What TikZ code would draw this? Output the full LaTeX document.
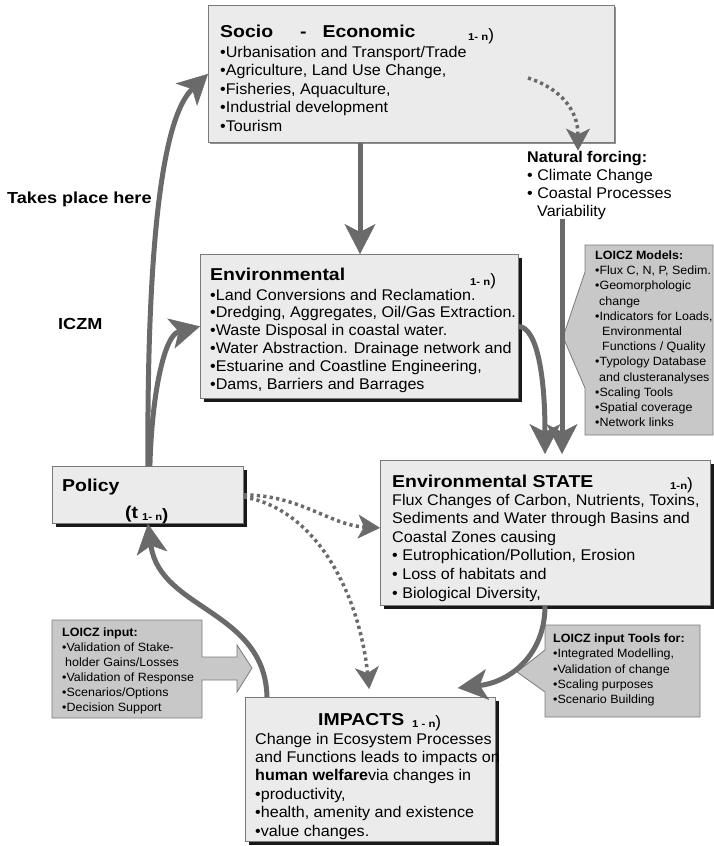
\documentclass[tikz,border=0pt]{standalone}
\usepackage{fontspec}
\setmainfont{Liberation Sans}[FakeStretch=1.04]
\newfontfamily\headfont{Liberation Sans}[FakeStretch=1.13]
\usetikzlibrary{arrows.meta,shadows,calc}
\definecolor{boxfill}{HTML}{EBEBEB}
\definecolor{loiczfill}{HTML}{C8C8C8}
\definecolor{linegray}{HTML}{6A6A6A}
\definecolor{framegray}{HTML}{7A7A7A}
% index range written after a box title, e.g. "1- n)"
\newcommand\subrange[1]{{\headfont\bfseries\fontsize{10}{12}\selectfont #1}{\fontsize{16.5}{16}\selectfont)}}

\begin{document}
\begin{tikzpicture}[x=1pt,y=-1pt,
  box/.style={draw=framegray, line width=0.8pt, fill=boxfill, inner sep=0pt, anchor=north west},
  darkshadow/.style={drop shadow={shadow xshift=3.5pt, shadow yshift=-3.5pt, fill=black, opacity=0.9}},
  lightshadow/.style={drop shadow={shadow xshift=2pt, shadow yshift=-2pt, fill=black!55, opacity=0.8}},
  loicz/.style={draw=framegray, line width=0.8pt, fill=loiczfill, line join=miter},
  body/.style={anchor=base west, inner sep=0pt, font=\fontsize{15.5}{18}\selectfont},
  bodybold/.style={body, font=\fontsize{15.5}{18}\selectfont\bfseries},
  small/.style={anchor=base west, inner sep=0pt, font=\fontsize{12}{14}\selectfont},
  smallhead/.style={small, font=\fontsize{12}{14}\selectfont\bfseries},
  head/.style={anchor=base west, inner sep=0pt, font=\headfont\fontsize{17.2}{20}\selectfont\bfseries},
  sidelabel/.style={anchor=base west, inner sep=0pt, font=\headfont\fontsize{16}{18}\selectfont\bfseries},
  sub/.style={anchor=base west, inner sep=0pt},
  thickarrow/.style={draw=linegray, line width=5pt,
    -{Stealth[length=30pt, width=31pt, inset=8pt, line width=0.5pt]}},
  dotarrow/.style={draw=linegray, line width=3.5pt, dash pattern=on 3.2pt off 3.3pt,
    -{Stealth[length=22pt, width=24pt, inset=6pt, line width=0.5pt]}}
]
\fill[white] (0,0) rectangle (714,846);
\useasboundingbox (0,0) rectangle (714,846);

% ---------- boxes ----------
\node[box, lightshadow, minimum width=406pt, minimum height=137pt] (socio) at (208,5) {};
\node[box, darkshadow, minimum width=318pt, minimum height=144pt] (env) at (200,254) {};
\node[box, darkshadow, minimum width=330pt, minimum height=145pt] (state) at (380,460) {};
\node[box, darkshadow, minimum width=191pt, minimum height=57pt] (policy) at (52,466) {};
\node[box, darkshadow, minimum width=250pt, minimum height=144pt] (impacts) at (245,697) {};

% LOICZ call-outs
\draw[loicz] (585,245) -- (713,245) -- (713,435) -- (585,435) -- (585,388)
  -- (563,337) -- (585,272) -- cycle;
\draw[loicz] (545,625) -- (700,625) -- (700,717) -- (545,717) -- (545,692)
  -- (517,672) -- (545,650) -- cycle;
\draw[loicz] (52,620) -- (202,620) -- (202,657) -- (237,657) -- (237,645)
  -- (252,668) -- (237,692) -- (237,680) -- (202,680) -- (202,718) -- (52,718) -- cycle;

% ---------- Socio-Economic ----------
\node[head] (socioT) at (220,37) {Socio\hspace{27pt}-\hspace{16pt}Economic};
\node[sub] (socioR) at (468,40) {\subrange{1- n}};
\node[body] (socio1) at (220,57) {•Urbanisation and Transport/Trade};
\node[body] (socio2) at (220,75.5) {•Agriculture, Land Use Change,};
\node[body] (socio3) at (220,94) {•Fisheries, Aquaculture,};
\node[body] (socio4) at (220,112.5) {•Industrial development};
\node[body] (socio5) at (220,131) {•Tourism};

% ---------- Natural forcing ----------
\node[bodybold] (nfT) at (527,162) {Natural forcing:};
\node[body] (nf1) at (527,180) {• Climate Change};
\node[body] (nf2) at (527,198) {• Coastal Processes};
\node[body] (nf3) at (537,216) {Variability};

% ---------- Environmental ----------
\node[head] (envT) at (210,280) {Environmental};
\node[sub] (envR) at (470,285) {\subrange{1- n}};
\node[body] (env1) at (210,300) {•Land Conversions and Reclamation.};
\node[body] (env2) at (210,317.8) {•Dredging, Aggregates, Oil/Gas Extraction.};
\node[body] (env3) at (210,335.6) {•Waste Disposal in coastal water.};
\node[body] (env4) at (210,353.4) {•Water Abstraction. Drainage network and};
\node[body] (env5) at (210,371.2) {•Estuarine and Coastline Engineering,};
\node[body] (env6) at (210,389) {•Dams, Barriers and Barrages};

% ---------- Environmental STATE ----------
\node[head] (stateT) at (392,487) {Environmental STATE};
\node[sub] (stateR) at (670,489) {\subrange{1-n}};
\node[body] (state1) at (392,505) {Flux Changes of Carbon, Nutrients, Toxins,};
\node[body] (state2) at (392,523.6) {Sediments and Water through Basins and};
\node[body] (state3) at (392,542.2) {Coastal Zones causing};
\node[body] (state4) at (392,560.8) {• Eutrophication/Pollution, Erosion};
\node[body] (state5) at (392,579.4) {• Loss of habitats and};
\node[body] (state6) at (392,598) {• Biological Diversity,};

% ---------- Policy ----------
\node[head] (policyT) at (62,491) {Policy};
\node[head] (policyR) at (125,518) {(t\hspace{4pt}\raisebox{-2pt}{\subrange{1- n}}};

% ---------- IMPACTS ----------
\node[head] (impT) at (318,725) {IMPACTS};
\node[sub] (impR) at (412,727) {\subrange{1 - n}};
\node[body] (imp1) at (255,744) {Change in Ecosystem Processes};
\node[body] (imp2) at (255,762.4) {and Functions leads to impacts on};
\node[body] (imp3) at (255,780.8) {{\bfseries human welfare}via changes in};
\node[body] (imp4) at (255,799.2) {•productivity,};
\node[body] (imp5) at (255,817.6) {•health, amenity and existence};
\node[body] (imp6) at (255,836) {•value changes.};

% ---------- LOICZ Models ----------
\node[smallhead] (modT) at (595,259.5) {LOICZ Models:};
\node[small] (mod1) at (595,274.7) {•Flux C, N, P, Sedim.};
\node[small] (mod2) at (595,289.9) {•Geomorphologic};
\node[small] (mod3) at (599,305.1) {change};
\node[small] (mod4) at (595,320.3) {•Indicators for Loads,};
\node[small] (mod5) at (602,335.5) {Environmental};
\node[small] (mod6) at (602,350.7) {Functions / Quality};
\node[small] (mod7) at (595,365.9) {•Typology Database};
\node[small] (mod8) at (599,381.1) {and clusteranalyses};
\node[small] (mod9) at (595,396.3) {•Scaling Tools};
\node[small] (mod10) at (595,411.5) {•Spatial coverage};
\node[small] (mod11) at (595,426.7) {•Network links};

% ---------- LOICZ input ----------
\node[smallhead] (inT) at (62,636.5) {LOICZ input:};
\node[small] (in1) at (62,651.5) {•Validation of Stake-};
\node[small] (in2) at (65,666.5) {holder Gains/Losses};
\node[small] (in3) at (62,681.5) {•Validation of Response};
\node[small] (in4) at (62,696.5) {•Scenarios/Options};
\node[small] (in5) at (62,711.5) {•Decision Support};

% ---------- LOICZ input Tools ----------
\node[smallhead] (toolT) at (553,642.5) {LOICZ input Tools for:};
\node[small] (tool1) at (553,657.8) {•Integrated Modelling,};
\node[small] (tool2) at (553,673) {•Validation of change};
\node[small] (tool3) at (553,688.3) {•Scaling purposes};
\node[small] (tool4) at (553,703.5) {•Scenario Building};

% ---------- side labels ----------
\node[sidelabel] (takes) at (7,203) {Takes place here};
\node[sidelabel] (iczm) at (58,329) {ICZM};

% ---------- connectors ----------
\coordinate (cx) at (360,0);
\coordinate (nx) at (562,0);
\coordinate (fx) at (545,0);
\coordinate (dx) at (578,0);
\coordinate (hx) at (370,0);
\coordinate (jx) at (267,0);
\coordinate (dotstart) at (528,78);

% Policy -> Socio-Economic and Policy -> Environmental
\draw[thickarrow] (policy.north) .. controls (147,260) and (160,120) .. (socio.west);
\draw[thickarrow] ([xshift=2pt]policy.north) .. controls (152,390) and (165,335) .. (env.west);
% Socio-Economic -> Environmental
\draw[thickarrow] (socio.south -| cx) -- (env.north -| cx);
% Socio-Economic -> Natural forcing
\draw[dotarrow] (dotstart) .. controls (560,88) and (578,110) .. (nfT.north -| dx);
% Natural forcing -> STATE and Environmental -> STATE
\draw[thickarrow, shorten >=6pt] (nf3.south -| nx) -- (state.north -| nx);
\draw[thickarrow, shorten >=6pt] (env.east) .. controls (538,328) and (545,380) .. (state.north -| fx);
% Policy -> STATE and Policy -> IMPACTS
\draw[dotarrow] (policy.east) .. controls (300,495) and (330,525) .. ([yshift=5pt]state.west);
\draw[dotarrow, shorten >=8pt] ([yshift=-2pt]policy.east) .. controls (320,510) and (360,600) .. (impacts.north -| hx);
% STATE -> IMPACTS
\draw[thickarrow] (state.south -| fx) .. controls (545,655) and (510,682) .. ($(impacts.north east)+(-38,-9)$);
% IMPACTS -> Policy
\draw[thickarrow] (impacts.north -| jx) .. controls (265,610) and (160,610) .. (policy.south);
\end{tikzpicture}
\end{document}
